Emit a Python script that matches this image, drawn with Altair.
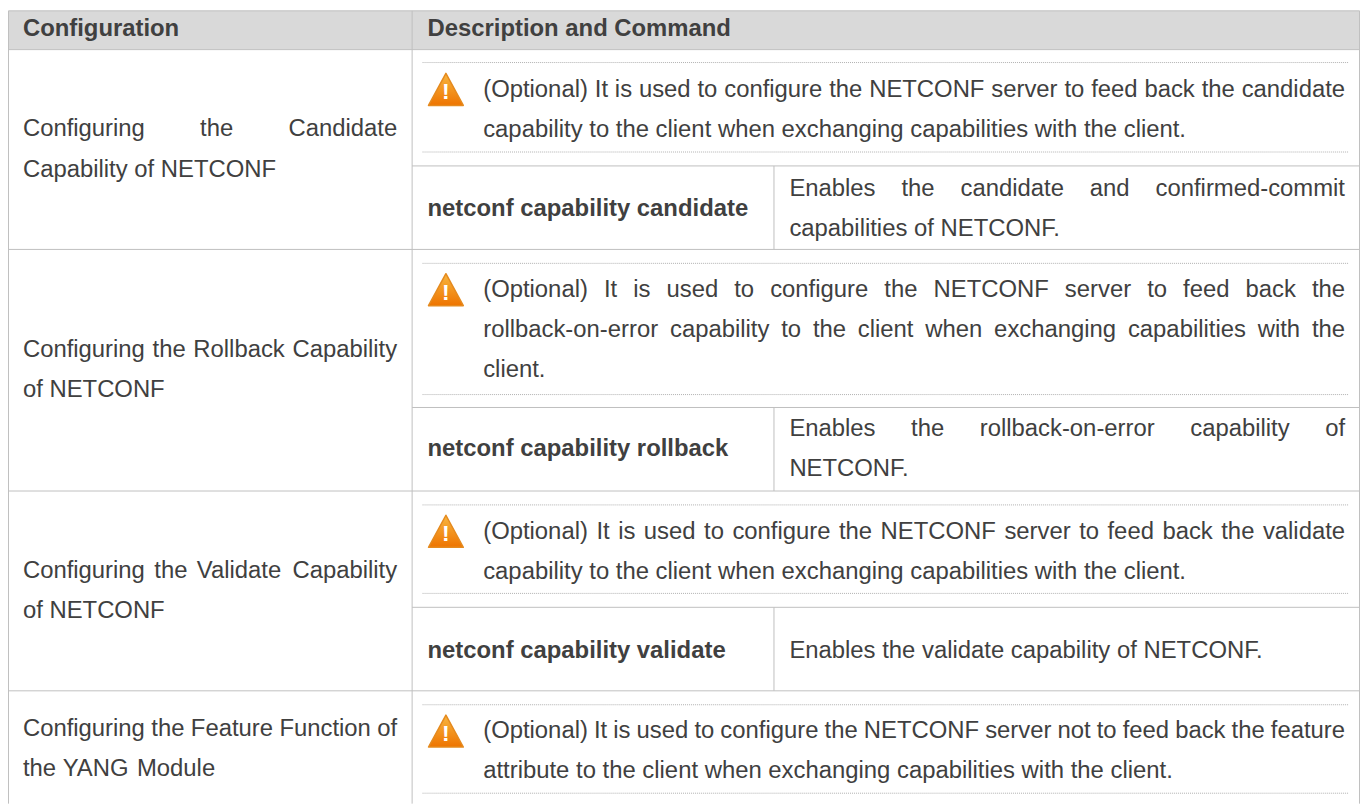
import altair as alt
import pandas as pd

# ---- table content -------------------------------------------------
header_left = "Configuration"
header_right = "Description and Command"
config_names = [
    ["Configuring the Candidate", "Capability of NETCONF"],
    ["Configuring the Rollback Capability", "of NETCONF"],
    ["Configuring the Validate Capability", "of NETCONF"],
    ["Configuring the Feature Function of", "the YANG Module"],
]
notes = [
    ["(Optional) It is used to configure the NETCONF server to feed back the candidate",
     "capability to the client when exchanging capabilities with the client."],
    ["(Optional) It is used to configure the NETCONF server to feed back the",
     "rollback-on-error capability to the client when exchanging capabilities with the",
     "client."],
    ["(Optional) It is used to configure the NETCONF server to feed back the validate",
     "capability to the client when exchanging capabilities with the client."],
    ["(Optional) It is used to configure the NETCONF server not to feed back the feature",
     "attribute to the client when exchanging capabilities with the client."],
]
commands = ["netconf capability candidate", "netconf capability rollback", "netconf capability validate"]
command_desc = [
    ["Enables the candidate and confirmed-commit", "capabilities of NETCONF."],
    ["Enables the rollback-on-error capability of", "NETCONF."],
    ["Enables the validate capability of NETCONF."],
]

# ---- table geometry, on the page's scale -----------------------------
W, H = 1369, 806
left_edge, split_x, inner_x, right_edge = 8.5, 414.5, 778.5, 1367.5
top_edge, head_bottom = 8.5, 47.5
row_bottoms = [248.5, 491.5, 692.5]
inner_lines = [164.5, 407.5, 608.5]
dots = [60.5, 150.5, 262.5, 394.5, 505.5, 594.5, 706.5, 795.5]
note_centers = [108.5, 329.5, 552.5, 753]
cmd_centers = [208, 449, 652]
name_centers = [148, 370, 592, 751]
icon_y = [87.5, 289, 532, 733]
LH = 40.3
FS = 24
INK = "#404040"
GRID = "#bfbfbf"

ARIAL = dict(zip("abcdefghijklmnopqrstuvwxyz",
    [556,556,500,556,556,278,556,556,222,222,500,222,833,556,556,556,556,333,500,278,556,500,722,500,500,500]))
ARIAL.update(zip("ABCDEFGHIJKLMNOPQRSTUVWXYZ",
    [667,667,722,722,667,611,778,722,278,500,667,556,833,722,778,667,778,722,667,611,722,667,944,667,667,611]))
ARIAL.update({"(": 333, ")": 333, ".": 278, "-": 333, " ": 278})


def tw(s):
    return sum(ARIAL[c] for c in s) * FS / 1000


def layout(lines, x0, x1, cy, bold=False):
    """One row per word: justified like the source, last line left aligned."""
    out = []
    n = len(lines)
    for i, line in enumerate(lines):
        y = cy + (i - (n - 1) / 2) * LH
        words = line.split(" ")
        gap = tw(" ")
        if i < n - 1 and len(words) > 1:
            gap = (x1 - x0 - sum(tw(w) for w in words)) / (len(words) - 1)
        x = x0
        for w in words:
            out.append({"x": x, "y": y, "t": w, "bold": bold})
            x += tw(w) + gap
    return out


texts = []
for lines, cy in zip(config_names, name_centers):
    texts += layout(lines, 23, 399.5, cy)
for lines, cy in zip(notes, note_centers):
    texts += layout(lines, 486, 1353, cy)
for c, cy in zip(commands, cmd_centers):
    texts.append({"x": 430, "y": cy, "t": c, "bold": True})
for lines, cy in zip(command_desc, cmd_centers):
    texts += layout(lines, 794, 1353, cy)
texts.append({"x": 23, "y": 27, "t": header_left, "bold": True})
texts.append({"x": 430, "y": 27, "t": header_right, "bold": True})
text_df = pd.DataFrame(texts)

X = alt.X("x:Q", scale=alt.Scale(domain=[8, W], range=[0, W - 8]), axis=None)
Y = alt.Y("y:Q", scale=alt.Scale(domain=[8, H], range=[0, H - 8]), axis=None)

head = alt.Chart(pd.DataFrame([{"x": left_edge, "x2": right_edge, "y": top_edge, "y2": head_bottom}])).mark_rect(
    color="#d9d9d9").encode(X, x2="x2:Q", y=Y, y2="y2:Q")

h_rows = [{"x": left_edge, "x2": right_edge, "y": v} for v in [top_edge, head_bottom] + row_bottoms]
h_rows += [{"x": split_x, "x2": right_edge, "y": v} for v in inner_lines]
h_rule = alt.Chart(pd.DataFrame(h_rows)).mark_rule(color=GRID, strokeWidth=1).encode(X, x2="x2:Q", y=Y)

v_rows = [{"x": x, "y": top_edge, "y2": H} for x in (left_edge, split_x, right_edge)]
v_rows += [{"x": inner_x, "y": a, "y2": b} for a, b in zip(inner_lines, row_bottoms)]
v_rule = alt.Chart(pd.DataFrame(v_rows)).mark_rule(color=GRID, strokeWidth=1).encode(X, y=Y, y2="y2:Q")

dot_rule = alt.Chart(pd.DataFrame([{"x": 425, "x2": 1357, "y": v} for v in dots])).mark_rule(
    color="#b0b0b0", strokeWidth=1, strokeDash=[1, 1]).encode(X, x2="x2:Q", y=Y)

icons = pd.DataFrame({"x": [448.5] * 4, "y": icon_y})
tri = alt.Chart(icons).mark_point(
    shape="M0,-0.92L1,0.92L-1,0.92Z", filled=True, size=1225, opacity=1, strokeWidth=1.5, strokeJoin="round",
    stroke="#e58a1e",
    fill=alt.Gradient(gradient="linear", x1=0, y1=0, x2=0, y2=1,
                      stops=[alt.GradientStop(offset=0, color="#f8b640"),
                             alt.GradientStop(offset=1, color="#ee7400")]),
).encode(X, Y)
bang = alt.Chart(icons.assign(t="!")).mark_text(
    font="Liberation Sans", fontWeight="bold", fontSize=23, color="white", align="center", baseline="middle", dy=3
).encode(X, Y, text="t:N")

reg = alt.Chart(text_df[~text_df.bold]).mark_text(
    font="Liberation Sans", fontSize=FS, color=INK, align="left", baseline="middle"
).encode(X, Y, text="t:N")
bold = alt.Chart(text_df[text_df.bold]).mark_text(
    font="Liberation Sans", fontSize=FS, fontWeight="bold", color=INK, align="left", baseline="middle"
).encode(X, Y, text="t:N")

chart = alt.layer(head, h_rule, v_rule, dot_rule, tri, bang, reg, bold).properties(
    width=W - 8, height=H - 8, padding=0, autosize=alt.AutoSizeParams(type="none"), background="white"
).configure_view(stroke=None)

chart.save("out.html", embed_options={"renderer": "svg", "actions": False})
